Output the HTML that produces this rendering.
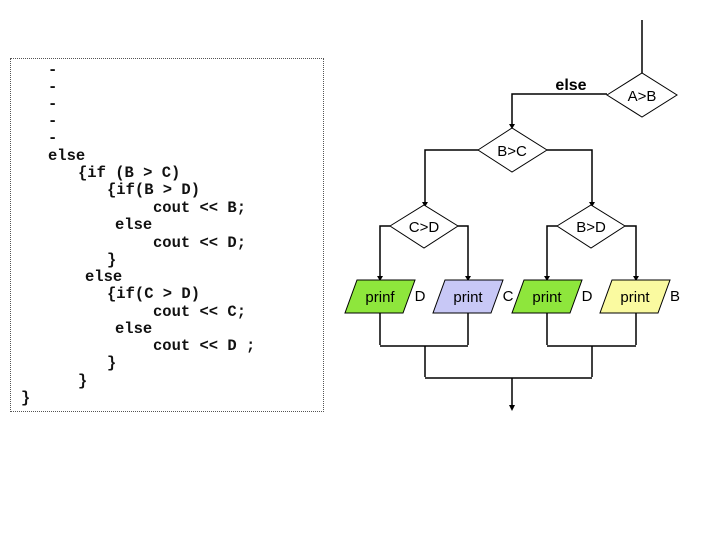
<!DOCTYPE html>
<html><head><style>
body{margin:0;width:720px;height:540px;background:#fff;position:relative;overflow:hidden}
.box{position:absolute;left:10px;top:58px;width:314px;height:354px;border:1px dotted #555;box-sizing:border-box}
.l{position:absolute;font-family:"Liberation Mono",monospace;font-size:15.5px;font-weight:bold;color:#111;white-space:pre;line-height:17px}
svg{position:absolute;left:0;top:0}
</style></head><body>
<div class="box"></div>
<div class="l" style="left:48px;top:62px">-</div>
<div class="l" style="left:48px;top:79px">-</div>
<div class="l" style="left:48px;top:96px">-</div>
<div class="l" style="left:48px;top:113px">-</div>
<div class="l" style="left:48px;top:130px">-</div>
<div class="l" style="left:48px;top:148px">else</div>
<div class="l" style="left:78px;top:165px">{if (B &gt; C)</div>
<div class="l" style="left:107px;top:182px">{if(B &gt; D)</div>
<div class="l" style="left:153px;top:200px">cout &lt;&lt; B;</div>
<div class="l" style="left:115px;top:217px">else</div>
<div class="l" style="left:153px;top:235px">cout &lt;&lt; D;</div>
<div class="l" style="left:107px;top:252px">}</div>
<div class="l" style="left:85px;top:269px">else</div>
<div class="l" style="left:107px;top:286px">{if(C &gt; D)</div>
<div class="l" style="left:153px;top:304px">cout &lt;&lt; C;</div>
<div class="l" style="left:115px;top:321px">else</div>
<div class="l" style="left:153px;top:338px">cout &lt;&lt; D ;</div>
<div class="l" style="left:107px;top:355px">}</div>
<div class="l" style="left:78px;top:373px">}</div>
<div class="l" style="left:21px;top:390px">}</div>
<svg width="720" height="540" font-family="Liberation Sans,sans-serif" font-size="15">
<g stroke="#000" stroke-width="1.5" fill="none">
<line x1="642" y1="20" x2="642" y2="73"/>
<polyline points="607,94 512,94 512,127"/>
<polyline points="478,150 425,150 425,205"/>
<polyline points="547,150 592,150 592,205"/>
<polyline points="390,226 380,226 380,279"/>
<polyline points="458,226 468,226 468,279"/>
<polyline points="557,226 547,226 547,279"/>
<polyline points="625,226 636,226 636,279"/>
<line x1="380" y1="313" x2="380" y2="345"/>
<line x1="468" y1="313" x2="468" y2="345"/>
<line x1="547" y1="313" x2="547" y2="345"/>
<line x1="636" y1="313" x2="636" y2="345"/>
<line x1="380" y1="346" x2="468" y2="346"/>
<line x1="547" y1="346" x2="636" y2="346"/>
<line x1="425" y1="346" x2="425" y2="377"/>
<line x1="592" y1="346" x2="592" y2="377"/>
<line x1="425" y1="378" x2="592" y2="378"/>
<line x1="512" y1="378" x2="512" y2="408"/>
</g>
<g fill="#000">
<path d="M509,405 L515,405 L512,411Z"/>
<path d="M509,124 L515,124 L512,129Z"/>
<path d="M422,202 L428,202 L425,207Z"/>
<path d="M589,202 L595,202 L592,207Z"/>
<path d="M377,276 L383,276 L380,281Z"/>
<path d="M465,276 L471,276 L468,281Z"/>
<path d="M544,276 L550,276 L547,281Z"/>
<path d="M633,276 L639,276 L636,281Z"/>
</g>
<g stroke="#000" stroke-width="1" fill="#fff">
<polygon points="607,95 642,73 677,95 642,117"/>
<polygon points="478,150 512,128 547,150 512,172"/>
<polygon points="390,226 424,205 458,226 424,248"/>
<polygon points="557,226 591,205 625,226 591,248"/>
<polygon points="357,280 415,280 403,313 345,313" fill="#8ee63c"/>
<polygon points="445,280 503,280 491,313 433,313" fill="#c8c8f6"/>
<polygon points="524,280 582,280 570,313 512,313" fill="#8ee63c"/>
<polygon points="612,280 670,280 658,313 600,313" fill="#fafaa0"/>
</g>
<g fill="#000" text-anchor="middle">
<text x="571" y="90" font-weight="bold" font-size="16">else</text>
<text x="642" y="101">A&gt;B</text>
<text x="512" y="156">B&gt;C</text>
<text x="424" y="232">C&gt;D</text>
<text x="591" y="232">B&gt;D</text>
<text x="380" y="302">prinf</text>
<text x="468" y="302">print</text>
<text x="547" y="302">print</text>
<text x="635" y="302">print</text>
<text x="420" y="301">D</text>
<text x="508" y="301">C</text>
<text x="587" y="301">D</text>
<text x="675" y="301">B</text>
</g>
</svg>
</body></html>
